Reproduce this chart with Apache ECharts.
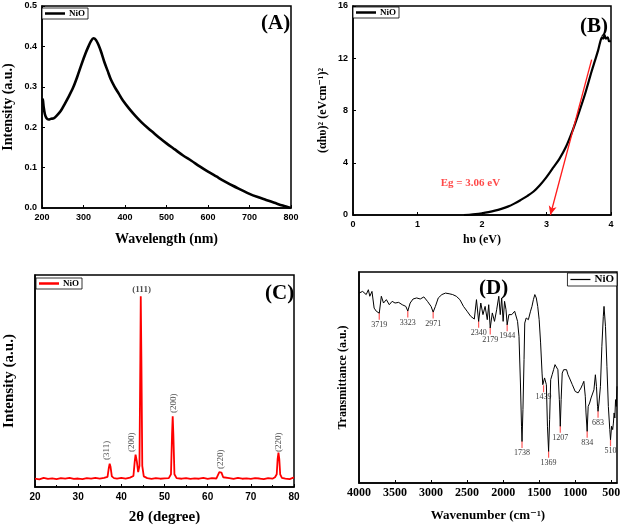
<!DOCTYPE html>
<html><head><meta charset="utf-8">
<script src="https://cdn.jsdelivr.net/npm/echarts@6/dist/echarts.min.js"></script>
<style>html,body{margin:0;padding:0;background:#fff}#c{width:622px;height:529px}</style>
</head><body><div id="c"></div>
<script>
// ---- Panel A: UV-Vis absorption ----
const uvWavelength = [200,202,204,207,211,216,222,228,235,245,255,265,275,285,295,305,312,318,324,330,336,343,350,358,366,375,385,395,410,425,440,455,470,485,500,520,540,560,580,600,620,640,660,680,700,720,740,760,780,800];
const uvIntensity  = [0.27,0.268,0.25,0.232,0.222,0.219,0.221,0.222,0.228,0.24,0.258,0.277,0.298,0.325,0.355,0.383,0.4,0.413,0.42,0.416,0.404,0.385,0.362,0.34,0.318,0.3,0.283,0.266,0.246,0.228,0.212,0.198,0.185,0.172,0.16,0.145,0.13,0.117,0.103,0.09,0.078,0.066,0.055,0.045,0.035,0.027,0.02,0.013,0.006,0];

// ---- Panel B: Tauc plot ----
const taucEnergy = [1.72,1.8,1.9,2.0,2.1,2.2,2.3,2.4,2.5,2.6,2.7,2.8,2.9,3.0,3.1,3.2,3.3,3.4,3.5,3.6,3.7,3.75,3.8,3.83,3.86,3.88,3.9,3.92,3.95,3.97,4.0];
const taucValue  = [0,0.02,0.06,0.13,0.22,0.33,0.47,0.64,0.87,1.15,1.45,1.8,2.3,2.9,3.6,4.3,5.2,6.4,7.8,9.3,11.0,11.8,12.6,13.2,13.6,13.5,13.8,13.5,13.6,13.3,13.3];
const egArrowFrom = [3.70, 11.9];
const egArrowTo   = [3.06, 0];
const egText = 'Eg = 3.06 eV';
const egTextAt = [1.82, 2.47];

// ---- Panel C: XRD ----
const xrdAngle = [20,21,22,23,24,25,26,27,28,29,30,31,32,33,34,35,36,36.8,37.1,37.3,37.5,37.8,38.3,39,40,41,42,42.8,43.1,43.3,43.6,43.9,44.2,44.4,44.5,44.65,44.85,45.2,46,47,48,49,50,51,51.5,51.75,51.9,52.05,52.3,52.8,54,55,56,57,58,59,60,61,62,62.4,62.7,62.9,63.2,63.6,64,65,66,67,68,69,70,71,72,73,74,75,75.6,76,76.2,76.4,76.6,76.8,77.2,78,79,80];
const xrdIntensity = [4.0,3.6,4.3,3.8,4.1,3.7,4.2,3.9,4.3,3.8,4.0,3.7,4.2,3.9,4.3,4.0,4.3,4.8,9,11,9.5,5,4.2,4.0,4.3,3.9,4.4,5.2,12,15.3,12,7,10,60,90,60,10,5,4.2,3.8,4.2,3.9,4.1,4.2,6,25,33.4,25,6,4.2,3.9,4.2,3.8,4.1,3.9,4.3,3.8,4.2,4.0,4.6,7,7.9,6.8,4.6,4.0,4.2,3.8,4.3,3.9,4.1,3.8,4.2,4.0,3.7,4.2,3.9,4.6,6,13,16.2,13,6,4.3,4.0,3.7,4.5];
const xrdPeakNames = ['(311)','(200)','(111)','(200)','(220)','(220)'];
const xrdLabelAt = [[36.7,17.3],[42.5,21.1],[44.7,93.3],[52.2,39.5],[63.1,13.1],[76.5,21.1]];

// ---- Panel D: FTIR ----
const irWavenumber = [4000,3950,3900,3870,3850,3820,3790,3760,3719,3690,3660,3620,3580,3540,3500,3450,3400,3350,3323,3290,3250,3200,3150,3100,3050,3000,2971,2940,2900,2850,2800,2750,2700,2650,2600,2550,2500,2450,2400,2370,2340,2310,2280,2250,2220,2200,2179,2150,2120,2090,2060,2040,2020,2000,1980,1960,1944,1920,1880,1840,1820,1800,1780,1760,1745,1738,1725,1710,1700,1680,1650,1620,1600,1580,1560,1540,1520,1500,1480,1460,1450,1439,1425,1410,1400,1385,1369,1355,1340,1320,1300,1280,1260,1240,1220,1207,1195,1180,1160,1140,1120,1100,1080,1060,1040,1020,1000,980,960,940,920,900,880,860,850,834,820,800,780,760,740,720,705,690,683,670,650,630,610,600,590,580,560,540,520,510,495,480,470,460,450,440,430,420];
const irTransmit = [90.0,90.8,89.3,91.6,88.5,90.8,82.9,81.4,80.5,88.5,85.3,86.9,84.5,86.1,85.3,85.6,84.5,83.7,81.5,85.3,87.2,87.7,87.2,88.2,86.1,83.7,81.0,83.7,87.7,89.3,90.0,89.7,89.3,88.5,86.9,83.7,81.4,79.0,77.7,86.9,76.6,85.3,79.8,83.7,77.4,84.5,73.5,80.6,76.6,82.1,88.5,79.8,87.7,76.6,86.1,82.1,75.0,79.8,79.8,81.4,80.6,76.6,69.5,47.4,26.9,19.7,34.8,58.5,75.8,78.2,77.4,81.4,83.7,86.9,89.3,87.7,83.7,77.4,66.4,52.1,46.6,46.1,49.8,49.0,46.6,26.9,15.0,30.0,49.0,51.3,53.7,56.1,56.9,53.7,39.5,26.9,39.5,52.1,53.7,54.5,53.7,51.3,49.8,49.0,46.6,45.8,43.4,43.0,42.7,43.4,45.0,46.6,48.2,41.1,33.2,24.5,36.3,37.9,40.3,41.1,44.2,51.3,45.8,36.3,34.0,37.9,45.8,64.8,79.0,83.7,82.9,74.2,55.3,36.3,25.3,20.5,26.9,25.3,28.4,33.2,30.8,39.5,36.3,45.8];
const irPeaks = [3719,3323,2971,2340,2179,1944,1738,1439,1369,1207,834,683,510];
const irPeakDepth = [80.5,81.5,81.0,76.6,73.5,75.0,19.7,46.1,15.0,26.9,24.5,34.0,20.5];
const irTicks = [500,1000,1500,2000,2500,3000,3500,4000];

const zip = (a,b) => a.map((v,i)=>[v,b[i]]);
const SERIF = '"Liberation Serif","DejaVu Serif",serif';
const SANS = '"Liberation Sans","DejaVu Sans",sans-serif';

const chart = echarts.init(document.getElementById('c'), null, {renderer:'canvas'});

const gridBase = {show:true, borderColor:'#000', borderWidth:1.5, backgroundColor:'transparent', containLabel:false, outerBoundsMode:'none'};
const tickLbl = (fs, fam) => ({color:'#000', fontSize:fs, fontFamily:fam||SANS, fontWeight:'bold', margin:5});
const axLine = {show:true, lineStyle:{color:'#000', width:1.5}};
const axTick = {show:true, inside:true, length:3, lineStyle:{color:'#000', width:1}};
const nameStyle = (fs) => ({fontFamily:SERIF, fontWeight:'bold', fontSize:fs, color:'#000'});

const legendBase = {
  orient:'horizontal', icon:'rect', itemWidth:20, itemHeight:2.5, itemGap:2,
  borderColor:'#000', borderWidth:0.8, padding:[1,3,1,3], backgroundColor:'#fff',
  formatter: () => 'NiO',
  textStyle:{fontFamily:SERIF, fontWeight:'bold', fontSize:9, color:'#000', padding:[0,0,0,-1]},
  selectedMode:false
};

const option = {
  animation:false,
  backgroundColor:'#fff',
  title:[
    {text:'(A)', left:256, top:8, textStyle:{fontFamily:SERIF, fontWeight:'bold', fontSize:21, color:'#000'}},
    {text:'(B)', left:575, top:11, textStyle:{fontFamily:SERIF, fontWeight:'bold', fontSize:21, color:'#000'}},
    {text:'(C)', left:260, top:278, textStyle:{fontFamily:SERIF, fontWeight:'bold', fontSize:21, color:'#000'}},
    {text:'(D)', left:474, top:273, textStyle:{fontFamily:SERIF, fontWeight:'bold', fontSize:21, color:'#000'}}
  ],
  legend:[
    Object.assign({}, legendBase, {data:['A'], left:42, top:8}),
    Object.assign({}, legendBase, {data:['B'], left:353, top:7}),
    Object.assign({}, legendBase, {data:['C'], left:36, top:278}),
    Object.assign({}, legendBase, {data:['D'], right:5, top:273, itemHeight:1.2, textStyle:Object.assign({}, legendBase.textStyle, {fontSize:11})})
  ],
  grid:[
    Object.assign({}, gridBase, {left:42, top:6, width:249, height:202}),
    Object.assign({}, gridBase, {left:353, top:6, width:258, height:209}),
    Object.assign({}, gridBase, {left:35, top:275, width:259, height:212}),
    Object.assign({}, gridBase, {left:359, top:272, width:258, height:211})
  ],
  xAxis:[
    {gridIndex:0, type:'value', min:200, max:800, interval:100, axisLine:axLine, axisTick:axTick, splitLine:{show:false},
     axisLabel:tickLbl(9), name:'Wavelength (nm)', nameLocation:'middle', nameGap:24, nameTextStyle:nameStyle(14)},
    {gridIndex:1, type:'value', min:0, max:4, interval:1, axisLine:axLine, axisTick:axTick, splitLine:{show:false},
     axisLabel:tickLbl(9), name:'hυ (eV)', nameLocation:'middle', nameGap:19, nameTextStyle:nameStyle(12)},
    {gridIndex:2, type:'value', min:20, max:80, interval:10, axisLine:axLine, axisTick:axTick, splitLine:{show:false},
     minorTick:{show:true, splitNumber:2, length:2, lineStyle:{color:'#000'}},
     axisLabel:tickLbl(10), name:'2θ (degree)', nameLocation:'middle', nameGap:23, nameTextStyle:nameStyle(15)},
    {gridIndex:3, type:'value', min:420, max:4000, inverse:true, axisLine:axLine, splitLine:{show:false},
     axisTick:Object.assign({}, axTick, {customValues:irTicks}),
     axisLabel:Object.assign(tickLbl(12, SERIF), {customValues:irTicks, margin:4, formatter:v=>String(v)}),
     name:'Wavenumber (cm⁻¹)', nameLocation:'middle', nameGap:26, nameTextStyle:nameStyle(13)}
  ],
  yAxis:[
    {gridIndex:0, type:'value', min:0, max:0.5, interval:0.1, axisLine:axLine, axisTick:axTick, splitLine:{show:false},
     axisLabel:Object.assign(tickLbl(9), {formatter:v=>v.toFixed(1)}),
     name:'Intensity (a.u.)', nameLocation:'middle', nameGap:27, nameTextStyle:nameStyle(14)},
    {gridIndex:1, type:'value', min:0, max:16, interval:4, axisLine:axLine, axisTick:axTick, splitLine:{show:false},
     axisLabel:tickLbl(9), name:'(αhυ)² (eVcm⁻¹)²', nameLocation:'middle', nameGap:24, nameTextStyle:nameStyle(12)},
    {gridIndex:2, type:'value', min:0, max:100, axisLine:axLine, axisTick:{show:false}, axisLabel:{show:false}, splitLine:{show:false},
     name:'Intensity (a.u.)', nameLocation:'middle', nameGap:18, nameTextStyle:nameStyle(15)},
    {gridIndex:3, type:'value', min:0, max:100, axisLine:axLine, axisTick:{show:false}, axisLabel:{show:false}, splitLine:{show:false},
     name:'Transmittance (a.u.)', nameLocation:'middle', nameGap:10, nameTextStyle:nameStyle(12)}
  ],
  series:[
    {name:'A', type:'line', xAxisIndex:0, yAxisIndex:0, data:zip(uvWavelength, uvIntensity), showSymbol:false, symbol:'none',
     smooth:0.3, lineStyle:{color:'#000', width:2.6}, itemStyle:{color:'#000'}},
    {name:'B', type:'line', xAxisIndex:1, yAxisIndex:1, data:zip(taucEnergy, taucValue), showSymbol:false, symbol:'none',
     smooth:0.3, lineStyle:{color:'#000', width:2.2}, itemStyle:{color:'#000'},
     markLine:{silent:true, symbol:['none','arrow'], symbolSize:[6,9], label:{show:false},
       lineStyle:{color:'#ff1a1a', width:1.3, type:'solid'},
       data:[[{coord:egArrowFrom},{coord:egArrowTo}]]}},
    {name:'Eg', type:'scatter', xAxisIndex:1, yAxisIndex:1, data:[egTextAt], symbolSize:0, silent:true,
     label:{show:true, position:'inside', formatter:egText, fontFamily:SERIF, fontWeight:'bold', fontSize:11, color:'#ff1a1a'}},
    {name:'C', type:'line', xAxisIndex:2, yAxisIndex:2, data:zip(xrdAngle, xrdIntensity), showSymbol:false, symbol:'none',
     lineStyle:{color:'#ff0000', width:1.8}, itemStyle:{color:'#ff0000'}},
    {name:'Cpk', type:'scatter', xAxisIndex:2, yAxisIndex:2, symbolSize:0, silent:true,
     data:xrdLabelAt.map((p,i)=>({value:p, name:xrdPeakNames[i],
       label: xrdPeakNames[i]==='(111)' ? {rotate:0, fontWeight:'bold', fontSize:9} : {rotate:90}})),
     label:{show:true, position:'inside', formatter:p=>p.name, fontFamily:SERIF, fontSize:9, color:'#222'}},
    {name:'D', type:'line', xAxisIndex:3, yAxisIndex:3, data:zip(irWavenumber, irTransmit), showSymbol:false, symbol:'none',
     lineStyle:{color:'#000', width:1}, itemStyle:{color:'#000'}},
    {name:'Dpk', type:'scatter', xAxisIndex:3, yAxisIndex:3, silent:true, data:zip(irPeaks, irPeakDepth),
     symbol:'rect', symbolSize:[1.2,7], symbolOffset:[0,3], itemStyle:{color:'#ff3030'},
     label:{show:true, position:'bottom', distance:1, formatter:p=>String(p.value[0]), fontFamily:SERIF, fontSize:8, color:'#000'}}
  ]
};
chart.setOption(option);
</script></body></html>
